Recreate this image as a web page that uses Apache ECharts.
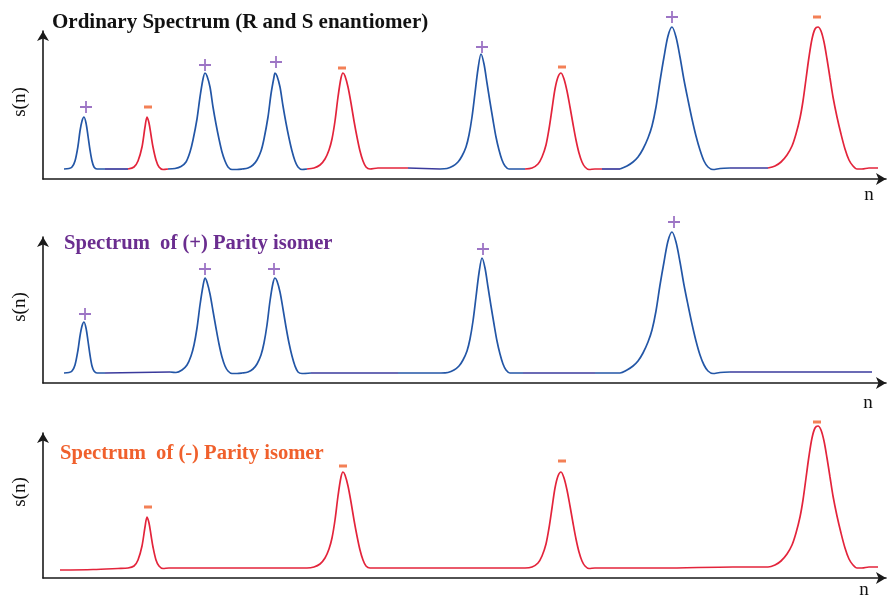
<!DOCTYPE html>
<html>
<head>
<meta charset="utf-8">
<script src="https://cdn.jsdelivr.net/npm/echarts@6/dist/echarts.min.js"></script>
<style>
html,body{margin:0;padding:0;background:#fff;}
#chart{width:887px;height:598px;}
</style>
</head>
<body>
<div id="chart"></div>
<script>
// ---------- DATA (n, s(n)) ----------
// Panel 1: ordinary spectrum (R and S enantiomer)
const ordPeak1Plus  = [[21,10],[26,10.5],[29,12],[32,18],[35,33],[37,48],[39,58],[41,62],[43,56],[45,43],[47,29],[49,18],[51,12],[54,10],[62,10]];
const ordGap1       = [[62,10],[85,10]];
const ordPeak2Minus = [[85,10],[91,12],[95,18],[99,32],[102,52],[104,62],[106,56],[108,44],[110,32],[113,19],[116,12],[120,9.5],[125,10]];
const ordPeak34Plus = [[125,10],[132,10.5],[138,12.5],[143,17],[147,27],[150,39],[154,60],[157,82],[160,100],[162,106],[164,103],[167,92],[170,72],[173,55],[176,40],[179,27],[182,18],[185,12],[189,9.5],[194,9.5],[199,10],[205,11],[210,14],[214,19],[218,28],[221,40],[225,62],[228,85],[231,102],[232,106],[234,103],[237,92],[240,73],[243,56],[246,41],[249,28],[252,18],[255,12],[259,9.5],[264,10]];
const ordPeak5Minus = [[264,10],[271,11],[277,14],[282,20],[286,29],[289,40],[292,58],[295,82],[298,101],[300,106],[302,103],[305,92],[308,76],[311,58],[314,42],[317,28],[320,18],[323,12],[327,10],[335,11],[365,11]];
const ordGap2       = [[365,11],[397,10]];
const ordPeak6Plus  = [[397,10],[404,10.5],[410,13],[415,17],[419,23],[423,32],[426,44],[429,62],[432,86],[435,110],[438,125],[441,115],[444,96],[447,77],[450,59],[453,42],[456,29],[459,19],[462,13],[466,10],[472,10],[482,10]];
const ordPeak7Minus = [[482,10],[489,11],[495,15],[499,22],[503,34],[506,50],[509,70],[512,90],[515,102],[518,106],[521,100],[524,88],[527,72],[530,55],[533,39],[536,26],[539,17],[542,12],[546,9.5],[552,10],[559,10]];
const ordGap3       = [[559,10],[577,10]];
const ordPeak8Plus  = [[577,10],[584,13],[590,17],[595,22],[600,30],[605,41],[609,53],[613,72],[617,98],[621,122],[625,143],[629,152],[633,142],[637,122],[641,99],[645,79],[649,60],[653,43],[657,29],[661,18],[665,12],[670,9.5],[677,10.5],[687,11]];
const ordGap4       = [[687,11],[725,11]];
const ordPeak9Minus = [[725,11],[732,13],[738,17],[744,24],[749,33],[753,45],[757,61],[760,78],[763,100],[766,122],[769,140],[772,150],[775,152],[778,148],[781,137],[784,120],[787,101],[790,82],[794,62],[798,45],[802,30],[806,19],[810,13],[814,10],[819,10],[826,11],[835,11]];

// Panel 2: (+) parity isomer
const plusPeakA  = [[21,10],[26,10.5],[29,12],[32,18],[35,33],[37,47],[39,57],[41,61],[43,55],[45,42],[47,28],[49,17],[51,12],[54,10],[62,10]];
const plusGapA   = [[62,10],[127,11]];
const plusPeakBC = [[127,11],[133,10.5],[139,13],[144,18],[148,27],[151,38],[154,55],[157,78],[160,97],[162,105],[164,101],[167,89],[170,72],[173,55],[176,39],[179,26],[182,17],[185,12],[189,9.5],[194,9.5],[199,10],[205,11],[210,14],[214,19],[218,28],[221,40],[224,58],[227,82],[230,100],[232,105],[234,102],[237,91],[240,74],[243,56],[246,40],[249,27],[252,17],[255,11],[259,9.5],[268,10]];
const plusGapB   = [[268,10],[355,10]];
const plusPeakD  = [[355,10],[398,10],[405,10.5],[411,13],[416,17],[420,23],[424,32],[427,44],[430,62],[433,86],[436,110],[439,125],[442,115],[445,96],[448,77],[451,59],[454,42],[457,29],[460,19],[463,13],[467,10],[473,10],[480,10]];
const plusGapC   = [[480,10],[552,10]];
const plusPeakE  = [[552,10],[577,10],[584,13],[590,17],[595,22],[600,30],[605,41],[609,53],[613,72],[617,98],[621,121],[625,142],[629,151],[633,141],[637,121],[641,98],[645,78],[649,59],[653,42],[657,28],[661,18],[665,12],[670,9.5],[677,10.5],[687,11]];
const plusGapD   = [[687,11],[829,11]];

// Panel 3: (-) parity isomer
const minusSpectrum = [[17,8],[50,8.5],[75,9.5],[85,10],[91,12],[95,18],[99,32],[102,51],[104,61],[106,55],[108,43],[110,31],[113,18],[116,12],[120,9.5],[126,10],[200,10],[264,10],[271,11],[277,14],[282,20],[286,29],[289,40],[292,58],[295,82],[298,101],[300,106],[302,103],[305,92],[308,76],[311,58],[314,42],[317,28],[320,18],[323,12],[327,10],[335,10],[400,10],[482,10],[489,11],[495,15],[499,22],[503,34],[506,50],[509,70],[512,90],[515,102],[518,106],[521,100],[524,88],[527,72],[530,55],[533,39],[536,26],[539,17],[542,12],[546,9.5],[552,10],[620,10],[690,11],[725,11],[732,13],[738,17],[744,24],[749,33],[753,45],[757,61],[760,78],[763,100],[766,122],[769,140],[772,150],[775,152],[778,148],[781,137],[784,120],[787,101],[790,82],[794,62],[798,45],[802,30],[806,19],[810,13],[814,10],[819,10],[826,11],[835,11]];

// Parity marks above the peaks
const ordPlusMarks    = [[43,72],[162,114],[233,117],[439,132],[629,162]];
const ordMinusMarks   = [[105,72],[299,111],[519,112],[774,162]];
const plusPanelMarks  = [[42,69],[162,114],[231,114],[440,134],[631,161]];
const minusPanelMarks = [[105,71],[300,112],[519,117],[774,156]];

// Texts
const titles = ['Ordinary Spectrum (R and S enantiomer)', 'Spectrum  of (+) Parity isomer', 'Spectrum  of (-) Parity isomer'];
const yName = 's(n)';
const xName = 'n';

// ---------- STYLE ----------
const BLUE = '#2356a6', RED = '#e3243b', NAVY = '#3a3a9c';
const PURPLE_T = '#6a2d8f', PLUS_C = '#8453b6', MINUS_C = '#f0602c';
const SERIF = '"Liberation Serif", "Times New Roman", serif';
const PLUS_PATH = 'path://M4.25,0H5.75V4.25H10V5.75H5.75V10H4.25V5.75H0V4.25H4.25Z';

const grids = [
  {left:43, right:1, top:31, height:148},
  {left:43, right:1, top:237, height:146},
  {left:43, right:1, top:433, height:145}
];

const axisLine = {show:true, lineStyle:{color:'#1a1a1a', width:1.6}, symbol:['none','arrow'], symbolSize:[9,10]};

const chart = echarts.init(document.getElementById('chart'));

function lineSeries(data, color, gi){
  return {type:'line', xAxisIndex:gi, yAxisIndex:gi, data:data, showSymbol:false, smooth:0.3,
          clip:false, silent:true, lineStyle:{color:color, width:1.7}, itemStyle:{color:color}, z:3};
}
function markSeries(data, kind, gi){
  const isPlus = kind === '+';
  return {type:'scatter', xAxisIndex:gi, yAxisIndex:gi, data:data, clip:false, silent:true,
          symbol: isPlus ? PLUS_PATH : 'rect', symbolSize: isPlus ? 12 : [8,3],
          itemStyle:{color: isPlus ? PLUS_C : MINUS_C}, z:4};
}

const series = [
  lineSeries(ordPeak1Plus, BLUE, 0),
  lineSeries(ordGap1, NAVY, 0),
  lineSeries(ordPeak2Minus, RED, 0),
  lineSeries(ordPeak34Plus, BLUE, 0),
  lineSeries(ordPeak5Minus, RED, 0),
  lineSeries(ordGap2, NAVY, 0),
  lineSeries(ordPeak6Plus, BLUE, 0),
  lineSeries(ordPeak7Minus, RED, 0),
  lineSeries(ordGap3, NAVY, 0),
  lineSeries(ordPeak8Plus, BLUE, 0),
  lineSeries(ordGap4, NAVY, 0),
  lineSeries(ordPeak9Minus, RED, 0),
  markSeries(ordPlusMarks, '+', 0),
  markSeries(ordMinusMarks, '-', 0),

  lineSeries(plusPeakA, BLUE, 1),
  lineSeries(plusGapA, NAVY, 1),
  lineSeries(plusPeakBC, BLUE, 1),
  lineSeries(plusGapB, NAVY, 1),
  lineSeries(plusPeakD, BLUE, 1),
  lineSeries(plusGapC, NAVY, 1),
  lineSeries(plusPeakE, BLUE, 1),
  lineSeries(plusGapD, NAVY, 1),
  markSeries(plusPanelMarks, '+', 1),

  lineSeries(minusSpectrum, RED, 2),
  markSeries(minusPanelMarks, '-', 2)
];

const xAxes = grids.map((g,i)=>({type:'value', gridIndex:i, min:0, max:843, axisLine:axisLine,
  axisTick:{show:false}, axisLabel:{show:false}, splitLine:{show:false}}));
const yAxes = grids.map((g,i)=>({type:'value', gridIndex:i, min:0, max:g.height, axisLine:axisLine,
  axisTick:{show:false}, axisLabel:{show:false}, splitLine:{show:false}}));

const titleStyles = [
  {left:52, top:12, color:'#111', size:21},
  {left:64, top:233, color:PURPLE_T, size:20.6},
  {left:60, top:443, color:MINUS_C, size:20.6}
];

const option = {
  backgroundColor:'#ffffff',
  animation:false,
  title: titles.map((t,i)=>({text:t, left:titleStyles[i].left, top:titleStyles[i].top, padding:0,
    textStyle:{fontFamily:SERIF, fontWeight:'bold', fontSize:titleStyles[i].size, color:titleStyles[i].color}})),
  grid: grids,
  xAxis: xAxes,
  yAxis: yAxes,
  series: series,
  graphic: [
    {type:'text', x:20, y:102, rotation:Math.PI/2, style:{text:yName, font:'19px '+SERIF, fill:'#111', textAlign:'center', textVerticalAlign:'middle'}},
    {type:'text', x:20, y:307, rotation:Math.PI/2, style:{text:yName, font:'19px '+SERIF, fill:'#111', textAlign:'center', textVerticalAlign:'middle'}},
    {type:'text', x:20, y:492, rotation:Math.PI/2, style:{text:yName, font:'19px '+SERIF, fill:'#111', textAlign:'center', textVerticalAlign:'middle'}},
    {type:'text', x:869, y:195, style:{text:xName, font:'19px '+SERIF, fill:'#111', textAlign:'center', textVerticalAlign:'middle'}},
    {type:'text', x:868, y:403, style:{text:xName, font:'19px '+SERIF, fill:'#111', textAlign:'center', textVerticalAlign:'middle'}},
    {type:'text', x:864, y:590, style:{text:xName, font:'19px '+SERIF, fill:'#111', textAlign:'center', textVerticalAlign:'middle'}}
  ]
};
chart.setOption(option);
</script>
</body>
</html>
